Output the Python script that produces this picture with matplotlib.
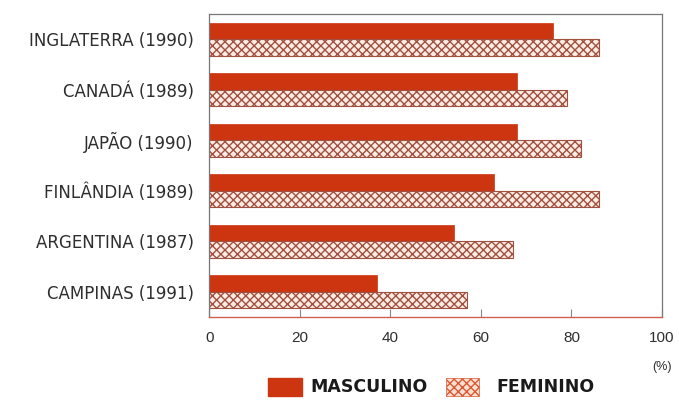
import matplotlib
matplotlib.use("Agg")
import matplotlib.pyplot as plt
import numpy as np
from matplotlib.patches import Rectangle

plt.rcParams['font.family'] = ['Liberation Sans', 'DejaVu Sans']
plt.rcParams['hatch.linewidth'] = 1.0

categories = ["INGLATERRA (1990)", "CANADÁ (1989)", "JAPÃO (1990)",
              "FINLÂNDIA (1989)", "ARGENTINA (1987)", "CAMPINAS (1991)"]
masculino = [76, 68, 68, 63, 54, 37]
feminino = [86, 79, 82, 86, 67, 57]
xticks = [0, 20, 40, 60, 80, 100]

RED = "#cc3510"
HATCH = "#dc6a45"
FEM_FACE = "#fdece4"
TXT = "#2e2e2e"

fig = plt.figure(figsize=(6.79, 4.0), dpi=100)
ax = fig.add_axes([0.308, 0.2075, 0.667, 0.7575])

y = np.arange(len(categories))
h = 0.33
ax.barh(y - h / 2, masculino, height=h, color=RED, edgecolor=RED, linewidth=0.5)
plt.rcParams['hatch.color'] = HATCH
ax.barh(y + h / 2, feminino, height=h, color=FEM_FACE, edgecolor="#a05040",
        linewidth=0.8, hatch="xxxx")

ax.set_xlim(0, 100)
ax.set_ylim(len(categories) - 0.5, -0.5)

ax.set_yticks(y)
ax.set_yticklabels(categories, fontsize=12, color=TXT, family='DejaVu Sans')
ax.tick_params(axis='y', length=0, pad=11)

ax.set_xticks(xticks)
ax.set_xticklabels([str(v) for v in xticks], fontsize=11, color=TXT)
ax.tick_params(axis='x', direction='in', length=6, width=0.8, color="#888888", pad=10)

for side in ['top', 'right', 'left']:
    ax.spines[side].set_color("#777777")
    ax.spines[side].set_linewidth(0.9)
ax.spines['bottom'].set_color("#d06050")
ax.spines['bottom'].set_linewidth(1.0)

ax.text(1.0, -0.165, "(%)", transform=ax.transAxes, ha='center', va='center',
        fontsize=9, color=TXT)

# legend drawn in figure coordinates
fig.patches.append(Rectangle((268 / 679, 1 - 396 / 400), 34 / 679, 18 / 400,
                             transform=fig.transFigure, facecolor=RED, edgecolor=RED))
fig.text(310 / 679, 1 - 387 / 400, "MASCULINO", fontsize=12.5, fontweight='bold',
         color="#1a1a1a", va='center', ha='left', family='DejaVu Sans')
fig.patches.append(Rectangle((446 / 679, 1 - 396 / 400), 33 / 679, 18 / 400,
                             transform=fig.transFigure, facecolor="#fbe0d2",
                             edgecolor="#d85a35", hatch="xxxx", linewidth=0.5))
fig.text(496 / 679, 1 - 387 / 400, "FEMININO", fontsize=12.5, fontweight='bold',
         color="#1a1a1a", va='center', ha='left', family='DejaVu Sans')

fig.savefig("out.png", dpi=100)
